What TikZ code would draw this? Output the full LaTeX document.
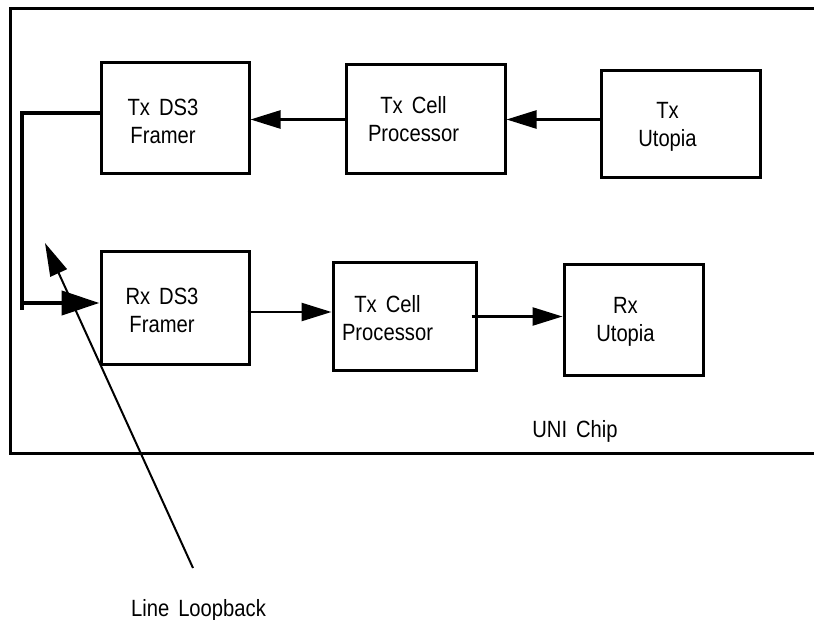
\documentclass[tikz,border=0pt]{standalone}
\usepackage{fontspec}
\setmainfont{Liberation Sans}[FakeStretch=0.86, WordSpace=1.6]
\usetikzlibrary{arrows.meta}
\tikzset{
  blockbox/.style={draw, line width=3pt, minimum width=#1, inner sep=0pt},
  lbl/.style={align=center, font=\fontsize{23.5}{28}\selectfont, inner sep=0pt},
  flow/.style={line width=2.5pt, -{Triangle[length=30pt,width=18pt]}},
  loopline/.style={line width=4.5pt},
  frame/.style={line width=3pt},
}
\begin{document}
\begin{tikzpicture}[x=1pt,y=-1pt]
\useasboundingbox (0,0) rectangle (814,620);

% chip outline (right side runs off the page)
\draw[frame] (814,8.5) -- (10,8.5) -- (10,453) -- (814,453);

% transmit path
\node[blockbox=148pt, minimum height=111pt] (txf) at (175,118.5) {};
\node[blockbox=159pt, minimum height=109pt] (txc) at (425.5,119.5) {};
\node[blockbox=159pt, minimum height=107pt] (txu) at (680.5,124.5) {};
% receive path
\node[blockbox=148pt, minimum height=112pt] (rxf) at (175,308) {};
\node[blockbox=143pt, minimum height=107pt] (rxc) at (404.5,316.5) {};
\node[blockbox=139pt, minimum height=110pt] (rxu) at (633.5,320) {};

% block labels
\node[lbl] (txft) at ([xshift=-12pt,yshift=-3pt]txf) {Tx DS3\\Framer};
\node[lbl] (txct) at ([xshift=-12pt]txc) {Tx Cell\\Processor};
\node[lbl] (txut) at ([xshift=-13pt,yshift=-2pt]txu) {Tx\\Utopia};
\node[lbl] (rxft) at ([xshift=-13pt,yshift=-2pt]rxf) {Rx DS3\\Framer};
\node[lbl] (rxct) at ([xshift=-17pt,yshift=-2pt]rxc) {Tx Cell\\Processor};
\node[lbl] (rxut) at ([xshift=-8pt,yshift=-2pt]rxu) {Rx\\Utopia};

\node[lbl, anchor=base] (chip) at (575,437) {UNI Chip};
\node[lbl, anchor=base] (ll) at (198.5,616) {Line Loopback};

% data flow arrows
\draw[flow] (txc.west) -- (txf.east |- txc.west);
\draw[flow] (txu.west |- txc.east) -- (txc.east);
\coordinate (rxo) at ([xshift=-3pt,yshift=-4pt]rxf.east);
\draw[flow] (rxo) -- (rxc.west |- rxo);
\coordinate (rco) at ([xshift=-6pt]rxc.east);
\draw[flow] (rco) -- (rxu.west |- rco);

% loopback path from transmit framer back to receive framer
\coordinate (lpa) at (22,113);
\coordinate (lpb) at (22,310);
\coordinate (lpc) at (20,303);
\draw[loopline] ([yshift=5.5pt]txf.west) -- (lpa) -- (lpb);
\draw[loopline, -{Triangle[length=38pt,width=24pt]}] (lpc) -- (rxf.west |- lpc);

% callout for the loopback
\coordinate (lltail) at (193,568);
\coordinate (lltip) at (45,243);
\draw[line width=2pt, -{Triangle[length=33pt,width=18pt]}] (lltail) -- (lltip);
\end{tikzpicture}
\end{document}
